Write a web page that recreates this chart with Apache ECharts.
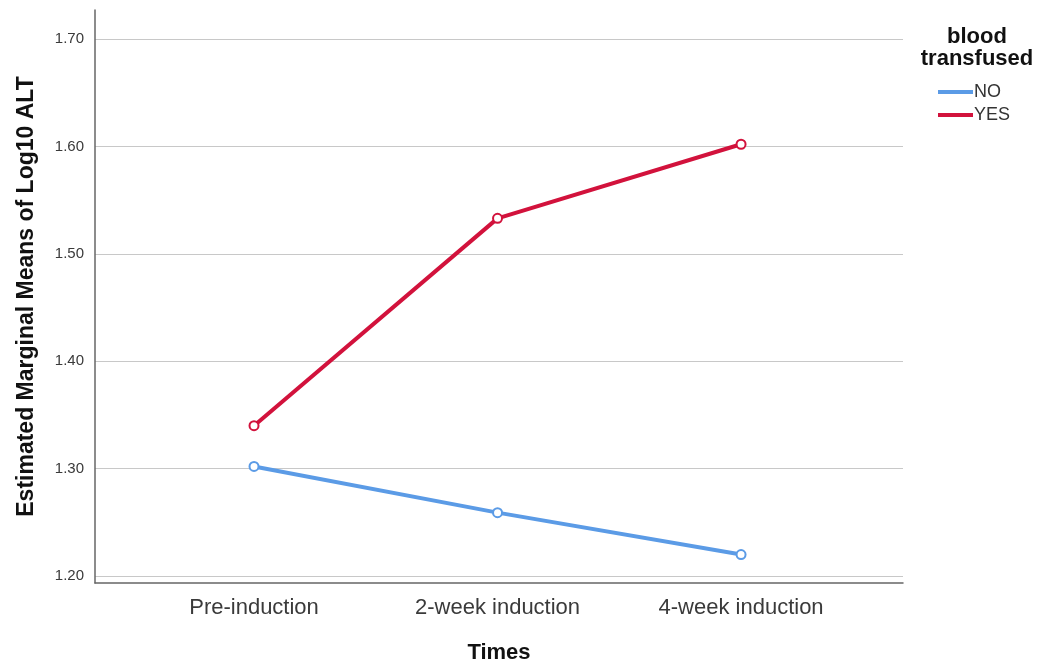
<!DOCTYPE html>
<html>
<head>
<meta charset="utf-8">
<script src="https://cdn.jsdelivr.net/npm/echarts@6/dist/echarts.min.js"></script>
<style>
  html, body { margin: 0; padding: 0; background: #fff; }
  #chart { width: 1045px; height: 664px; }
</style>
</head>
<body>
<div id="chart"></div>
<script>
// data
var times = ['Pre-induction', '2-week induction', '4-week induction'];
var noValues = [1.302, 1.259, 1.220];
var yesValues = [1.340, 1.533, 1.602];
var yTicks = [1.2, 1.3, 1.4, 1.5, 1.6, 1.7];
var xTicks = [0, 1, 2];

function toPoints(vals) {
    return vals.map(function (v, i) { return [i, v]; });
}

var chart = echarts.init(document.getElementById('chart'));
var option = {
    backgroundColor: '#fff',
    animation: false,
    title: {
        text: 'blood\ntransfused',
        left: 972,
        top: 21,
        textAlign: 'center',
        textStyle: { fontFamily: 'Liberation Sans', fontSize: 22, fontWeight: 'bold', color: '#111', lineHeight: 22 }
    },
    legend: {
        orient: 'vertical',
        left: 933,
        top: 78,
        itemWidth: 35,
        itemHeight: 4,
        itemGap: 5,
        icon: 'rect',
        textStyle: { fontFamily: 'Liberation Sans', fontSize: 18, color: '#333', padding: [0, 0, 0, -4] },
        data: ['NO', 'YES']
    },
    grid: { left: 95, right: 142, top: 10, bottom: 81, containLabel: false, outerBoundsMode: 'none' },
    xAxis: {
        type: 'value',
        min: -0.653,
        max: 2.665,
        name: 'Times',
        nameLocation: 'middle',
        nameGap: 59,
        nameTextStyle: { fontFamily: 'Liberation Sans', fontSize: 22, fontWeight: 'bold', color: '#111' },
        axisLine: { show: true, onZero: false, lineStyle: { color: '#666', width: 1.5 } },
        axisTick: { show: false, customValues: xTicks },
        splitLine: { show: false },
        axisLabel: {
            customValues: xTicks,
            margin: 14,
            fontFamily: 'Liberation Sans',
            fontSize: 22,
            color: '#3a3a3a',
            formatter: function (v) { return times[Math.round(v)]; }
        }
    },
    yAxis: {
        type: 'value',
        min: 1.1935,
        max: 1.727,
        name: 'Estimated Marginal Means of Log10 ALT',
        nameLocation: 'middle',
        nameGap: 57,
        nameTextStyle: { fontFamily: 'Liberation Sans', fontSize: 23, fontWeight: 'bold', color: '#111' },
        axisLine: { show: true, onZero: false, lineStyle: { color: '#666', width: 1.5 } },
        axisTick: { show: false, customValues: yTicks },
        splitLine: { show: true, lineStyle: { color: '#c8c8c8', width: 1.2 } },
        axisLabel: {
            customValues: yTicks,
            margin: 11,
            fontFamily: 'Liberation Sans',
            fontSize: 15,
            color: '#3a3a3a',
            formatter: function (v) { return v.toFixed(2); }
        }
    },
    series: [
        {
            name: 'NO',
            type: 'line',
            data: toPoints(noValues),
            color: '#5b9be6',
            lineStyle: { width: 4 },
            symbol: 'emptyCircle',
            symbolSize: 9,
            itemStyle: { borderWidth: 1.5 }
        },
        {
            name: 'YES',
            type: 'line',
            data: toPoints(yesValues),
            color: '#d2123c',
            lineStyle: { width: 4 },
            symbol: 'emptyCircle',
            symbolSize: 9,
            itemStyle: { borderWidth: 1.5 }
        }
    ]
};
chart.setOption(option);
</script>
</body>
</html>
